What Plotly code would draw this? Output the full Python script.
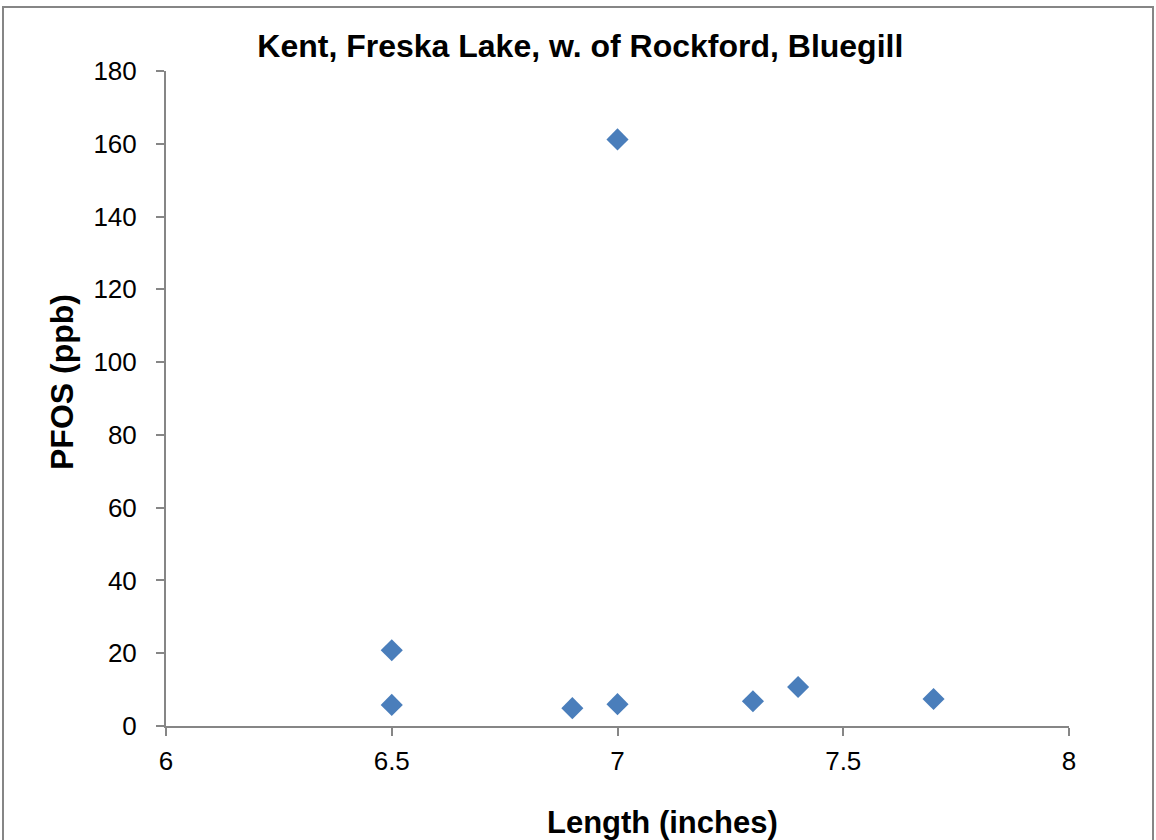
import plotly.graph_objects as go

length_in = [6.5, 6.5, 6.9, 7.0, 7.0, 7.3, 7.4, 7.7]
pfos_ppb = [20.8, 5.8, 4.9, 6.0, 161.2, 6.8, 10.7, 7.4]

x_ticks = [6, 6.5, 7, 7.5, 8]
x_tick_text = ["6", "6.5", "7", "7.5", "8"]
y_ticks = [0, 20, 40, 60, 80, 100, 120, 140, 160, 180]

title = "Kent, Freska Lake, w. of Rockford, Bluegill"
x_title = "Length (inches)"
y_title = "PFOS (ppb)"

axis_color = "#868686"
font_family = "Liberation Sans, Arial, sans-serif"

fig = go.Figure()
fig.add_trace(go.Scatter(
    x=length_in, y=pfos_ppb, mode="markers",
    marker=dict(symbol="diamond", size=17, color="#4A7EBB",
                line=dict(width=0)),
    showlegend=False,
))

fig.update_layout(
    width=1156, height=840,
    margin=dict(l=166, r=87, t=71, b=114),
    paper_bgcolor="white", plot_bgcolor="white",
    font=dict(family=font_family, color="black", size=26),
    title=dict(text="<b>" + title + "</b>", x=0.502, xanchor="center",
               y=1 - 46 / 840, yanchor="middle", yref="container",
               font=dict(size=32, family=font_family, color="black")),
    showlegend=False,
)

fig.update_xaxes(
    range=[6, 8], tickvals=x_ticks, ticktext=x_tick_text,
    showgrid=False, zeroline=False,
    showline=True, linecolor=axis_color, linewidth=2,
    ticks="outside", ticklen=8, tickwidth=2, tickcolor=axis_color,
    ticklabelstandoff=3,
    tickfont=dict(size=26, family=font_family, color="black"),
)
fig.update_yaxes(
    range=[0, 180], tickvals=y_ticks,
    showgrid=False, zeroline=False,
    showline=True, linecolor=axis_color, linewidth=2,
    ticks="outside", ticklen=8, tickwidth=2, tickcolor=axis_color,
    ticklabelstandoff=14,
    tickfont=dict(size=26, family=font_family, color="black"),
)

fig.add_annotation(
    text="<b>" + x_title + "</b>", xref="paper", yref="paper",
    x=(662 - 166) / 903, y=(726 - 822) / 655, xanchor="center", yanchor="middle",
    showarrow=False, font=dict(size=31, family=font_family, color="black"),
)
fig.add_annotation(
    text="<b>" + y_title + "</b>", xref="paper", yref="paper",
    x=(62 - 166) / 903, y=(726 - 382) / 655, xanchor="center", yanchor="middle",
    textangle=-90,
    showarrow=False, font=dict(size=32, family=font_family, color="black"),
)

fig.add_shape(
    type="rect", xref="paper", yref="paper",
    x0=(3 - 166) / 903, x1=(1153 - 166) / 903,
    y0=(726 - 900) / 655, y1=(726 - 7) / 655,
    line=dict(color=axis_color, width=2), fillcolor="rgba(0,0,0,0)",
    layer="below",
)

fig.write_html(
    "out.html",
    config={"displayModeBar": False},
    post_script="document.body.style.margin='0';document.body.style.overflow='hidden';",
)
